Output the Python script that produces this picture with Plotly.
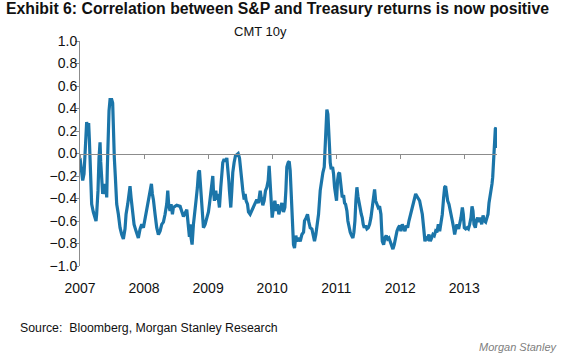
import plotly.graph_objects as go

# Decimal years and correlation values
years = [
    2007.000, 2007.016, 2007.042, 2007.063, 2007.078, 2007.094, 2007.104, 2007.120, 2007.135, 2007.146,
    2007.156, 2007.167, 2007.182, 2007.208, 2007.234, 2007.250, 2007.260, 2007.281, 2007.297, 2007.313,
    2007.323, 2007.339, 2007.354, 2007.375, 2007.391, 2007.406, 2007.417, 2007.427, 2007.438, 2007.453,
    2007.469, 2007.495, 2007.510, 2007.521, 2007.536, 2007.552, 2007.573, 2007.599, 2007.625, 2007.651,
    2007.677, 2007.703, 2007.719, 2007.745, 2007.766, 2007.781, 2007.797, 2007.818, 2007.844, 2007.875,
    2007.911, 2007.938, 2007.964, 2007.990, 2008.016, 2008.042, 2008.068, 2008.094, 2008.115, 2008.130,
    2008.146, 2008.172, 2008.198, 2008.224, 2008.250, 2008.276, 2008.302, 2008.328, 2008.354, 2008.370,
    2008.385, 2008.406, 2008.422, 2008.443, 2008.458, 2008.510, 2008.563, 2008.615, 2008.667, 2008.708,
    2008.719, 2008.734, 2008.750, 2008.771, 2008.792, 2008.813, 2008.833, 2008.849, 2008.865, 2008.875,
    2008.891, 2008.911, 2008.927, 2008.953, 2008.979, 2009.005, 2009.021, 2009.042, 2009.057, 2009.073,
    2009.083, 2009.099, 2009.120, 2009.135, 2009.151, 2009.177, 2009.198, 2009.214, 2009.229, 2009.250,
    2009.271, 2009.292, 2009.307, 2009.323, 2009.333, 2009.344, 2009.354, 2009.370, 2009.385, 2009.406,
    2009.427, 2009.448, 2009.469, 2009.490, 2009.500, 2009.510, 2009.526, 2009.542, 2009.563, 2009.578,
    2009.594, 2009.615, 2009.630, 2009.656, 2009.682, 2009.708, 2009.734, 2009.760, 2009.786, 2009.813,
    2009.828, 2009.854, 2009.875, 2009.896, 2009.917, 2009.938, 2009.953, 2009.969, 2009.984, 2010.000,
    2010.021, 2010.042, 2010.063, 2010.083, 2010.104, 2010.125, 2010.151, 2010.177, 2010.198, 2010.214,
    2010.229, 2010.250, 2010.266, 2010.281, 2010.297, 2010.313, 2010.323, 2010.333, 2010.349, 2010.370,
    2010.385, 2010.411, 2010.438, 2010.464, 2010.490, 2010.505, 2010.531, 2010.552, 2010.573, 2010.594,
    2010.620, 2010.646, 2010.661, 2010.682, 2010.703, 2010.724, 2010.750, 2010.776, 2010.792, 2010.813,
    2010.828, 2010.839, 2010.854, 2010.870, 2010.885, 2010.896, 2010.906, 2010.922, 2010.943, 2010.958,
    2010.974, 2010.990, 2011.005, 2011.021, 2011.036, 2011.052, 2011.063, 2011.078, 2011.094, 2011.115,
    2011.130, 2011.146, 2011.167, 2011.182, 2011.198, 2011.219, 2011.240, 2011.260, 2011.276, 2011.292,
    2011.307, 2011.323, 2011.339, 2011.354, 2011.375, 2011.391, 2011.406, 2011.422, 2011.438, 2011.458,
    2011.479, 2011.500, 2011.521, 2011.542, 2011.563, 2011.583, 2011.599, 2011.615, 2011.635, 2011.656,
    2011.677, 2011.698, 2011.708, 2011.719, 2011.740, 2011.760, 2011.781, 2011.802, 2011.823, 2011.844,
    2011.865, 2011.885, 2011.906, 2011.927, 2011.948, 2011.969, 2011.990, 2012.010, 2012.031, 2012.052,
    2012.073, 2012.094, 2012.115, 2012.135, 2012.156, 2012.177, 2012.198, 2012.219, 2012.240, 2012.260,
    2012.281, 2012.302, 2012.323, 2012.344, 2012.365, 2012.385, 2012.406, 2012.427, 2012.448, 2012.469,
    2012.490, 2012.510, 2012.531, 2012.552, 2012.573, 2012.594, 2012.615, 2012.641, 2012.656, 2012.677,
    2012.693, 2012.708, 2012.724, 2012.740, 2012.760, 2012.781, 2012.797, 2012.813, 2012.833, 2012.849,
    2012.870, 2012.885, 2012.911, 2012.927, 2012.948, 2012.969, 2012.984, 2013.000, 2013.021, 2013.042,
    2013.063, 2013.083, 2013.104, 2013.120, 2013.135, 2013.151, 2013.172, 2013.188, 2013.208, 2013.229,
    2013.250, 2013.271, 2013.292, 2013.313, 2013.333, 2013.354, 2013.370, 2013.385, 2013.401, 2013.417,
    2013.432, 2013.443, 2013.453, 2013.464, 2013.474, 2013.484, 2013.495, 2013.505, 2013.510,
]
corr = [
    -0.04, -0.12, -0.24, -0.18, 0.00, 0.11, 0.28, 0.20, 0.27, 0.13,
    -0.09, -0.33, -0.45, -0.52, -0.57, -0.60, -0.54, -0.33, -0.04, 0.10,
    -0.07, -0.21, -0.36, -0.27, -0.36, -0.30, -0.39, -0.12, 0.11, 0.38,
    0.48, 0.48, 0.45, 0.20, -0.04, -0.21, -0.45, -0.54, -0.66, -0.72,
    -0.76, -0.67, -0.54, -0.45, -0.36, -0.29, -0.39, -0.52, -0.63, -0.69,
    -0.75, -0.67, -0.63, -0.66, -0.58, -0.51, -0.42, -0.36, -0.27, -0.36,
    -0.41, -0.54, -0.66, -0.72, -0.69, -0.63, -0.61, -0.54, -0.45, -0.33,
    -0.46, -0.51, -0.45, -0.54, -0.48, -0.46, -0.47, -0.56, -0.50, -0.74,
    -0.63, -0.75, -0.81, -0.63, -0.48, -0.41, -0.30, -0.17, -0.15, -0.24,
    -0.39, -0.60, -0.66, -0.63, -0.57, -0.52, -0.45, -0.36, -0.27, -0.20,
    -0.33, -0.42, -0.33, -0.41, -0.36, -0.48, -0.30, -0.18, -0.08, -0.05,
    -0.07, -0.04, -0.12, -0.24, -0.33, -0.45, -0.48, -0.33, -0.17, -0.08,
    -0.02, -0.01, 0.00, -0.04, -0.12, -0.21, -0.24, -0.33, -0.41, -0.36,
    -0.42, -0.45, -0.52, -0.54, -0.51, -0.48, -0.45, -0.41, -0.44, -0.33,
    -0.39, -0.46, -0.42, -0.33, -0.30, -0.24, -0.11, -0.24, -0.42, -0.57,
    -0.48, -0.42, -0.51, -0.45, -0.54, -0.50, -0.44, -0.52, -0.48, -0.33,
    -0.12, -0.08, -0.07, -0.15, -0.33, -0.48, -0.63, -0.81, -0.84, -0.73,
    -0.78, -0.75, -0.78, -0.72, -0.70, -0.60, -0.57, -0.54, -0.61, -0.66,
    -0.67, -0.75, -0.78, -0.72, -0.63, -0.54, -0.33, -0.21, -0.17, -0.12,
    0.11, 0.32, 0.39, 0.35, 0.23, 0.05, -0.08, -0.14, -0.12, -0.18,
    -0.30, -0.39, -0.42, -0.24, -0.18, -0.17, -0.24, -0.36, -0.39, -0.37,
    -0.44, -0.45, -0.51, -0.60, -0.66, -0.70, -0.73, -0.75, -0.70, -0.60,
    -0.42, -0.30, -0.38, -0.45, -0.49, -0.54, -0.57, -0.63, -0.66, -0.64,
    -0.67, -0.66, -0.63, -0.57, -0.48, -0.39, -0.32, -0.42, -0.45, -0.48,
    -0.47, -0.54, -0.66, -0.78, -0.81, -0.75, -0.73, -0.76, -0.75, -0.78,
    -0.82, -0.85, -0.81, -0.73, -0.69, -0.66, -0.64, -0.69, -0.63, -0.66,
    -0.69, -0.64, -0.66, -0.60, -0.55, -0.52, -0.45, -0.41, -0.36, -0.38,
    -0.40, -0.42, -0.48, -0.54, -0.66, -0.78, -0.75, -0.76, -0.72, -0.78,
    -0.75, -0.72, -0.73, -0.69, -0.70, -0.63, -0.69, -0.60, -0.54, -0.39,
    -0.30, -0.29, -0.36, -0.42, -0.45, -0.51, -0.52, -0.60, -0.66, -0.72,
    -0.66, -0.63, -0.67, -0.63, -0.57, -0.48, -0.54, -0.66, -0.67, -0.66,
    -0.67, -0.63, -0.57, -0.47, -0.51, -0.63, -0.66, -0.60, -0.57, -0.61,
    -0.57, -0.63, -0.55, -0.60, -0.61, -0.57, -0.54, -0.44, -0.39, -0.32,
    -0.27, -0.21, -0.09, 0.02, 0.11, 0.22, 0.23, 0.14, 0.05,
]

year_ticks = [2007, 2008, 2009, 2010, 2011, 2012, 2013]
year_labels = ["2007", "2008", "2009", "2010", "2011", "2012", "2013"]
y_ticks = [1.0, 0.8, 0.6, 0.4, 0.2, 0.0, -0.2, -0.4, -0.6, -0.8, -1.0]

title_text = "Exhibit 6: Correlation between S&P and Treasury returns is now positive"
series_name = "CMT 10y"
source_text = "Source:  Bloomberg, Morgan Stanley Research"
brand_text = "Morgan Stanley"

FONT = "Liberation Sans, Arial, sans-serif"
x_end = years[-1]

fig = go.Figure()
fig.add_trace(go.Scatter(
    x=years, y=corr, mode="lines", name=series_name,
    line=dict(color="#1B75A9", width=3.2), hoverinfo="x+y",
))
# helper trace so the zero-crossing axis is drawn
fig.add_trace(go.Scatter(
    x=[year_ticks[0]], y=[0], xaxis="x2", mode="markers",
    marker=dict(opacity=0), hoverinfo="skip", showlegend=False,
))

fig.update_layout(
    width=565, height=357,
    margin=dict(l=80, r=68, t=41, b=91),
    paper_bgcolor="white", plot_bgcolor="white",
    showlegend=False,
    font=dict(family=FONT, color="#111111", size=14),
    xaxis=dict(
        range=[year_ticks[0], x_end], tickvals=year_ticks, ticktext=year_labels,
        showgrid=False, zeroline=False, showline=False, ticks="",
        ticklabelstandoff=12, tickfont=dict(size=14, color="#111111"),
    ),
    xaxis2=dict(
        range=[year_ticks[0], x_end], overlaying="x", anchor="free", position=0.5,
        side="bottom", tickvals=year_ticks, showticklabels=False,
        showgrid=False, zeroline=False, showline=True, linecolor="#8c8c8c", linewidth=1,
        ticks="outside", ticklen=4, tickcolor="#8c8c8c",
    ),
    yaxis=dict(
        range=[-1.0, 1.0], tickvals=y_ticks, tickformat=".1f",
        showgrid=False, zeroline=False, showline=True, linecolor="#8c8c8c", linewidth=1,
        ticks="outside", ticklen=4, tickcolor="#8c8c8c",
        ticklabelstandoff=-5,
        tickfont=dict(size=14, color="#111111"),
    ),
)

fig.add_annotation(text="<b>" + title_text + "</b>", xref="paper", yref="paper",
                   x=-76/417, y=1 + 32/225, xanchor="left", yanchor="middle",
                   showarrow=False, font=dict(size=15.8, color="#111111", family=FONT))
fig.add_annotation(text=series_name, xref="paper", yref="paper",
                   x=(260-80)/417, y=1 + 9/225, xanchor="center", yanchor="middle",
                   showarrow=False, font=dict(size=13, color="#111111", family=FONT))
fig.add_annotation(text=source_text, xref="paper", yref="paper",
                   x=-62/417, y=-(328-266)/225, xanchor="left", yanchor="middle",
                   showarrow=False, font=dict(size=12.3, color="#111111", family=FONT))
fig.add_annotation(text="<i>" + brand_text + "</i>", xref="paper", yref="paper",
                   x=(560-80)/417, y=-(347-266)/225, xanchor="right", yanchor="middle",
                   showarrow=False, font=dict(size=11, color="#808080", family=FONT))

fig.write_html("out.html", config={"displayModeBar": False},
               post_script="document.body.style.margin='0';")
